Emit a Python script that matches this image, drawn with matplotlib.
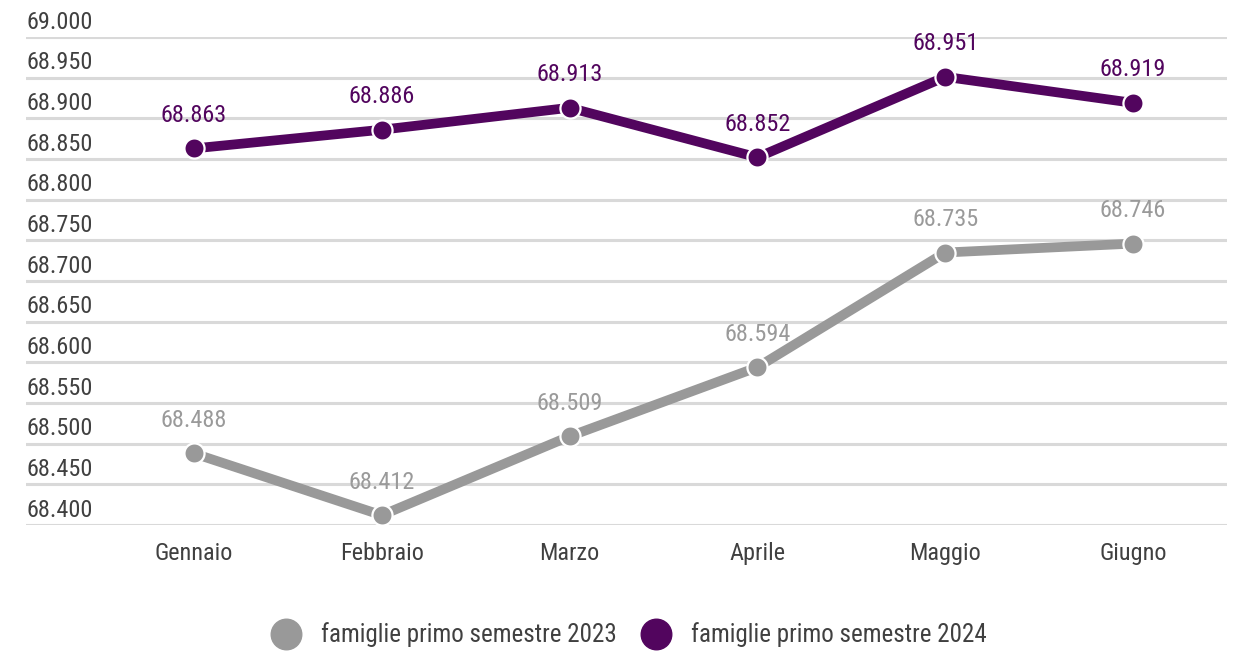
import matplotlib
matplotlib.use("Agg")
import matplotlib.pyplot as plt
from matplotlib import font_manager
from matplotlib.lines import Line2D

months = ["Gennaio", "Febbraio", "Marzo", "Aprile", "Maggio", "Giugno"]
fam_2023 = [68.488, 68.412, 68.509, 68.594, 68.735, 68.746]
fam_2024 = [68.863, 68.886, 68.913, 68.852, 68.951, 68.919]
labels_2023 = ["68.488", "68.412", "68.509", "68.594", "68.735", "68.746"]
labels_2024 = ["68.863", "68.886", "68.913", "68.852", "68.951", "68.919"]
yticks = [68.400, 68.450, 68.500, 68.550, 68.600, 68.650, 68.700, 68.750,
          68.800, 68.850, 68.900, 68.950, 69.000]
ytick_labels = ["68.400", "68.450", "68.500", "68.550", "68.600", "68.650", "68.700",
                "68.750", "68.800", "68.850", "68.900", "68.950", "69.000"]
series_names = ["famiglie primo semestre 2023", "famiglie primo semestre 2024"]

avail = {f.name for f in font_manager.fontManager.ttflist}
fam = None
for cand in ["Liberation Sans Narrow", "Roboto Condensed", "DejaVu Sans Condensed", "Open Sans", "Roboto"]:
    if cand in avail:
        fam = cand
        break
plt.rcParams['font.family'] = [fam, 'DejaVu Sans']

GRAY = "#999999"
PURPLE = "#52055e"
TXT = "#404040"
GRID = "#d9d9d9"
FS = 17.5

W, H = 1239, 653
fig = plt.figure(figsize=(W / 100, H / 100), dpi=100)
left, right = 26 / W, 1227 / W
top, bottom = 1 - 37 / H, 1 - 525 / H
ax = fig.add_axes([left, bottom, right - left, top - bottom])
ax.set_xlim(-0.894, 5.5)
ax.set_ylim(68.400, 69.000)

for s in ax.spines.values():
    s.set_visible(False)
ax.set_yticks(yticks)
ax.set_yticklabels([])
ax.tick_params(axis='y', length=0)
ax.grid(axis='y', color=GRID, linewidth=2.2)
ax.set_axisbelow(True)
x = list(range(len(months)))
ax.set_xticks(x)
ax.set_xticklabels(months, fontsize=FS, color=TXT)
ax.tick_params(axis='x', length=0, pad=12)

for v, lab in zip(yticks, ytick_labels):
    ax.annotate(lab, xy=(0, v), xycoords=('axes fraction', 'data'),
                xytext=(0, 2.5), textcoords='offset points',
                ha='left', va='bottom', fontsize=FS, color=TXT)

for vals, labs, col, tcol in [(fam_2023, labels_2023, GRAY, "#9a9a9a"),
                              (fam_2024, labels_2024, PURPLE, PURPLE)]:
    ax.plot(x, vals, color=col, linewidth=7, marker='o', markersize=14.5,
            markerfacecolor=col, markeredgecolor='white', markeredgewidth=1.6,
            clip_on=False, zorder=3, solid_capstyle='butt')
    for xi, v, lab in zip(x, vals, labs):
        ax.annotate(lab, xy=(xi, v), xytext=(0, 19), textcoords='offset points',
                    ha='center', va='baseline', fontsize=FS, color=tcol, zorder=4)

handles = [Line2D([], [], linestyle='none', marker='o', markersize=22,
                  markerfacecolor=c, markeredgecolor=c) for c in (GRAY, PURPLE)]
fig.legend(handles, series_names, loc='center', bbox_to_anchor=(629 / W, 1 - 635 / H),
           ncol=2, frameon=False, fontsize=18.0, labelcolor=TXT,
           handletextpad=0.8, columnspacing=0.95, handlelength=1.2)

fig.savefig("out.png", dpi=100)
